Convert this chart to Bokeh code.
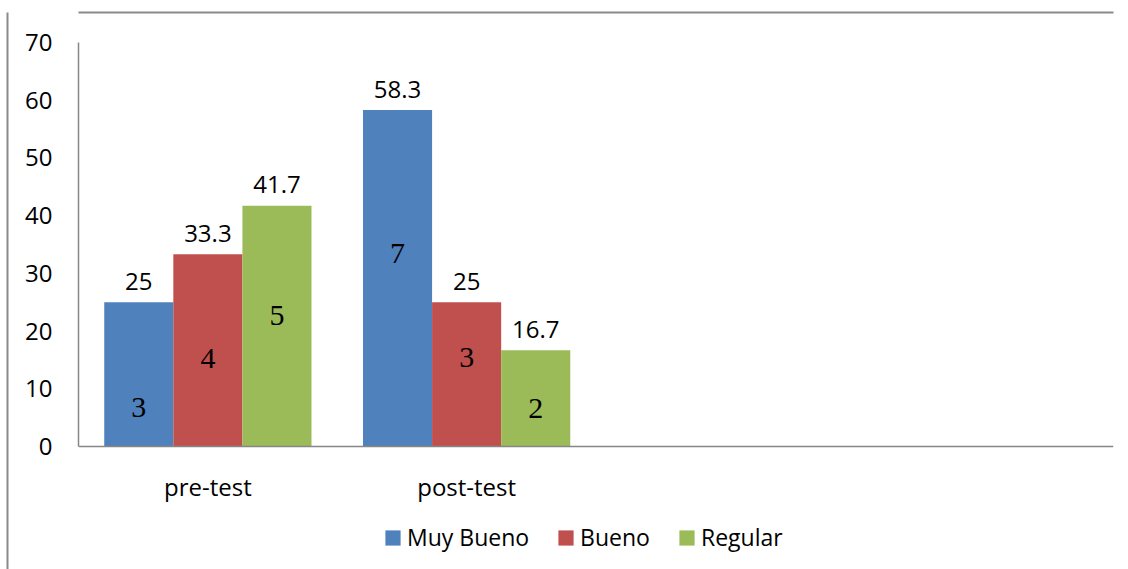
from bokeh.plotting import figure
from bokeh.models import (ColumnDataSource, FactorRange, Range1d, Legend, LegendItem,
                          FixedTicker, Span, LinearAxis, CategoricalAxis)
from bokeh.transform import dodge
from bokeh.core.properties import value
from bokeh.embed import file_html
from bokeh.resources import INLINE

# ---- data ----
groups = ["pre-test", "post-test"]
muy_bueno = [25, 58.3]
bueno = [33.3, 25]
regular = [41.7, 16.7]
muy_bueno_n = [3, 7]
bueno_n = [4, 3]
regular_n = [5, 2]
# vertical placement of the count labels inside bars (data units)
muy_bueno_n_y = [6.8, 33.4]
bueno_n_y = [15.2, 15.4]
regular_n_y = [22.7, 6.6]
y_ticks = [0, 10, 20, 30, 40, 50, 60, 70]

BLUE, RED, GREEN = "#4F81BD", "#C0504D", "#9BBB59"
AXIS = "#868686"
FRAME = "#8A8A8A"
FONT = "Open Sans"
SERIF = "Liberation Serif"
FS = "24px"

factors = groups + [" ", "  "]

src = ColumnDataSource(dict(
    g=groups, zero=[0] * len(groups),
    mb=muy_bueno, b=bueno, r=regular,
    mb_l=[f"{v:g}" for v in muy_bueno],
    b_l=[f"{v:g}" for v in bueno],
    r_l=[f"{v:g}" for v in regular],
    mb_n=[str(v) for v in muy_bueno_n],
    b_n=[str(v) for v in bueno_n],
    r_n=[str(v) for v in regular_n],
    mb_ny=muy_bueno_n_y, b_ny=bueno_n_y, r_ny=regular_n_y,
))

# plot area extends below the value axis so the legend can live inside it
p = figure(x_range=FactorRange(*factors), y_range=Range1d(-21.3, 75.2),
           width=1128, height=569, output_backend="svg", toolbar_location=None,
           x_axis_location=None, title=None,
           min_border_left=78, min_border_right=15, min_border_top=12,
           min_border_bottom=0)
p.outline_line_color = None
p.xgrid.grid_line_color = None
p.ygrid.grid_line_color = None

W = 0.267
series = [("mb", "mb_l", "mb_n", "mb_ny", -W, BLUE, "Muy Bueno"),
          ("b", "b_l", "b_n", "b_ny", 0.0, RED, "Bueno"),
          ("r", "r_l", "r_n", "r_ny", W, GREEN, "Regular")]

items = []
for col, lcol, ncol, nycol, off, color, name in series:
    xs = dodge("g", off, range=p.x_range)
    r = p.vbar(x=xs, top=col, width=W, source=src, fill_color=color, line_color=None)
    p.text(x=xs, y=col, text=lcol, source=src, text_align="center",
           text_baseline="alphabetic", y_offset=-21, text_font=value(FONT),
           text_font_size=FS, text_color="black")
    p.text(x=xs, y=nycol, text=ncol, source=src, text_align="center",
           text_baseline="middle", text_font=value(SERIF),
           text_font_size="30px", text_color="black")
    items.append(LegendItem(label=name, renderers=[r]))

# category axis line at zero and its labels
p.add_layout(Span(location=0, dimension="width", line_color=AXIS, line_width=1.5))
p.text(x="g", y="zero", text="g", source=src, text_align="center",
       text_baseline="alphabetic", y_offset=40, text_font=value(FONT),
       text_font_size=FS, text_color="black")

# value axis
ya = p.yaxis[0]
ya.bounds = (0, 70)
ya.ticker = FixedTicker(ticks=y_ticks)
ya.axis_line_color = AXIS
ya.axis_line_width = 1.5
ya.major_tick_line_color = None
ya.minor_tick_line_color = None
ya.major_label_text_font = FONT
ya.major_label_text_font_size = FS
ya.major_label_text_color = "black"
ya.major_label_standoff = 20
ya.axis_label = " "
ya.axis_label_text_font_size = "7px"
ya.axis_label_standoff = 5

# chart-area border (left and top)
left_border = LinearAxis(ticker=FixedTicker(ticks=[]), axis_line_color=FRAME,
                         axis_line_width=2, major_tick_out=0, minor_tick_out=0,
                         major_label_standoff=0)
p.add_layout(left_border, "left")
top_border = CategoricalAxis(axis_line_color=FRAME, axis_line_width=2,
                             major_tick_line_color=None, major_tick_out=0,
                             major_label_standoff=0, major_label_text_font_size="0px",
                             group_text_font_size="0px")
p.add_layout(top_border, "above")

legend = Legend(items=items, orientation="horizontal", location=(305, 16),
                padding=0, margin=0, spacing=27, label_standoff=5,
                glyph_width=19, glyph_height=19, label_text_font=FONT,
                label_text_font_size="23px", label_text_color="black",
                border_line_color=None, background_fill_alpha=0)
p.add_layout(legend)

open("out.html", "w").write(file_html(p, INLINE))
